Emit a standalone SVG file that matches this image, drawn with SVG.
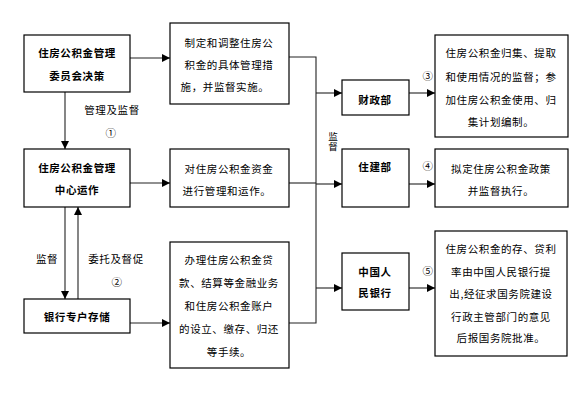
<svg xmlns="http://www.w3.org/2000/svg" width="579" height="405" viewBox="0 0 579 405">
<style>
.box{fill:#fff;stroke:#000;stroke-width:1.2}
.t{font-family:"Noto Sans CJK SC","Liberation Sans",sans-serif;font-size:10.5px;fill:#000;text-anchor:middle;letter-spacing:0.6px}
.b{font-weight:bold}
.ln{fill:none;stroke:#222;stroke-width:1.1}
.v{font-family:"Noto Sans CJK SC","Liberation Sans",sans-serif;font-size:9.5px;fill:#000;writing-mode:vertical-rl;text-anchor:start}
</style>
<defs>
<marker id="ah" viewBox="0 0 10 10" refX="10" refY="5" markerWidth="8" markerHeight="8" markerUnits="userSpaceOnUse" orient="auto">
<path d="M0,0 L10,5 L0,10 z" fill="#000"/>
</marker>
</defs>
<rect width="579" height="405" fill="#fff"/>
<g id="connectors">
<line class="ln" x1="130" y1="58" x2="170" y2="58" marker-end="url(#ah)"/>
<line class="ln" x1="130" y1="183" x2="170" y2="183" marker-end="url(#ah)"/>
<line class="ln" x1="130" y1="323" x2="170" y2="323" marker-end="url(#ah)"/>
<line class="ln" x1="65" y1="92" x2="65" y2="149" marker-end="url(#ah)"/>
<line class="ln" x1="65" y1="207" x2="65" y2="299" marker-end="url(#ah)"/>
<line class="ln" x1="78" y1="299" x2="78" y2="207" marker-end="url(#ah)"/>
<polyline class="ln" points="289,57 316,57 316,323 289,323"/>
<line class="ln" x1="289" y1="183" x2="316" y2="183"/>
<line class="ln" x1="316" y1="93" x2="342" y2="93" marker-end="url(#ah)"/>
<line class="ln" x1="316" y1="184" x2="342" y2="184" marker-end="url(#ah)"/>
<line class="ln" x1="316" y1="288" x2="342" y2="288" marker-end="url(#ah)"/>
<line class="ln" x1="409" y1="93" x2="435" y2="93" marker-end="url(#ah)"/>
<line class="ln" x1="409" y1="184" x2="435" y2="184" marker-end="url(#ah)"/>
<line class="ln" x1="409" y1="288" x2="435" y2="288" marker-end="url(#ah)"/>
<text class="t" x="112" y="114">管理及监督</text>
<text class="t" x="111" y="137">①</text>
<text class="t" x="47" y="263">监督</text>
<text class="t" x="116" y="263">委托及督促</text>
<text class="t" x="117" y="286">②</text>
<text class="t" x="428" y="80">③</text>
<text class="t" x="428" y="170">④</text>
<text class="t" x="428" y="275">⑤</text>
<text class="v" x="333" y="132">监督</text>
</g>
<g id="n_committee">
<rect class="box" x="24" y="35" width="106" height="57"/>
<text class="t b" x="77" y="57">住房公积金管理</text>
<text class="t b" x="77" y="80">委员会决策</text>
</g>
<g id="n_measures">
<rect class="box" x="170" y="23" width="119" height="81"/>
<text class="t" x="229" y="47">制定和调整住房公</text>
<text class="t" x="229" y="69">积金的具体管理措</text>
<text class="t" x="225" y="91">施，并监督实施。</text>
</g>
<g id="n_center">
<rect class="box" x="24" y="149" width="106" height="58"/>
<text class="t b" x="77" y="172">住房公积金管理</text>
<text class="t b" x="77" y="194">中心运作</text>
</g>
<g id="n_operate">
<rect class="box" x="170" y="149" width="119" height="58"/>
<text class="t" x="229" y="173">对住房公积金资金</text>
<text class="t" x="227" y="195">进行管理和运作。</text>
</g>
<g id="n_bank">
<rect class="box" x="24" y="299" width="106" height="34"/>
<text class="t b" x="77" y="321">银行专户存储</text>
</g>
<g id="n_handle">
<rect class="box" x="170" y="242" width="119" height="126"/>
<text class="t" x="229" y="264">办理住房公积金贷</text>
<text class="t" x="229" y="287">款、结算等金融业务</text>
<text class="t" x="229" y="310">和住房公积金账户</text>
<text class="t" x="229" y="333">的设立、缴存、归还</text>
<text class="t" x="229" y="356">等手续。</text>
</g>
<g id="n_finance">
<rect class="box" x="342" y="80" width="67" height="35"/>
<text class="t b" x="375" y="104">财政部</text>
</g>
<g id="n_finance_desc">
<rect class="box" x="435" y="35" width="133" height="102"/>
<text class="t" x="501" y="57">住房公积金归集、提取</text>
<text class="t" x="501" y="81">和使用情况的监督；参</text>
<text class="t" x="501" y="104">加住房公积金使用、归</text>
<text class="t" x="501" y="126">集计划编制。</text>
</g>
<g id="n_construction">
<rect class="box" x="342" y="149" width="67" height="58"/>
<text class="t b" x="375" y="171">住建部</text>
</g>
<g id="n_construction_desc">
<rect class="box" x="435" y="149" width="133" height="58"/>
<text class="t" x="501" y="173">拟定住房公积金政策</text>
<text class="t" x="501" y="195">并监督执行。</text>
</g>
<g id="n_pbc">
<rect class="box" x="342" y="253" width="67" height="57"/>
<text class="t b" x="375" y="276">中国人</text>
<text class="t b" x="375" y="297">民银行</text>
</g>
<g id="n_pbc_desc">
<rect class="box" x="435" y="231" width="132" height="125"/>
<text class="t" x="501" y="253">住房公积金的存、贷利</text>
<text class="t" x="501" y="276">率由中国人民银行提</text>
<text class="t" x="501" y="298">出,经征求国务院建设</text>
<text class="t" x="501" y="321">行政主管部门的意见</text>
<text class="t" x="501" y="342">后报国务院批准。</text>
</g>
</svg>
